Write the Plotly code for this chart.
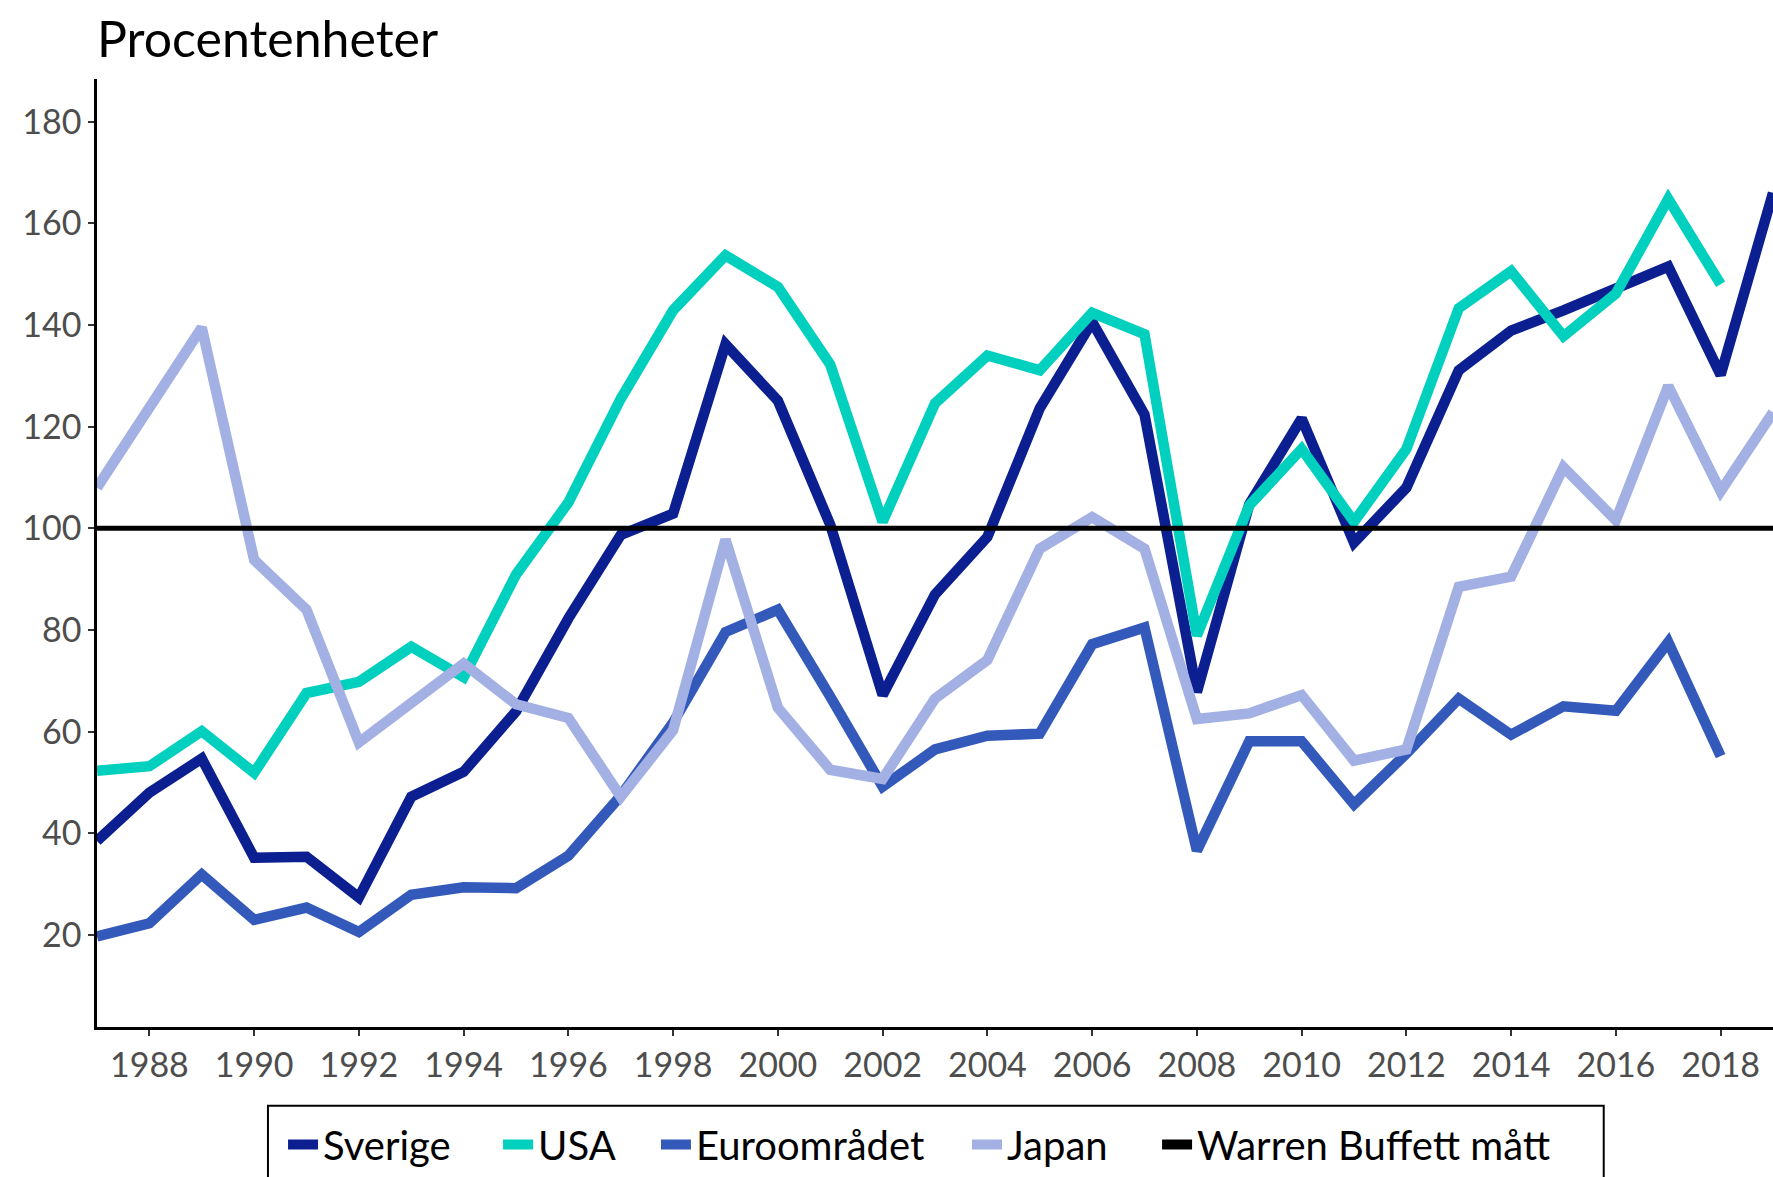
import plotly.graph_objects as go

years = list(range(1987, 2020))

sverige = [38.5, 48, 54.7, 35.2, 35.4, 27.4, 47.2, 52.1, 64, 82.3, 98.7, 102.9, 136.2, 125.1, 100.7,
           67.2, 87, 98.3, 123.6, 140.6, 122.4, 67.8, 104.7, 121.6, 97.2, 108, 131.1, 138.9, 142.9,
           147.3, 151.5, 130.2, 166]
usa = [52.3, 53.2, 60.1, 51.9, 67.6, 69.8, 76.7, 70.7, 90.9, 105.1, 125.5, 142.9, 153.7, 147.5, 132.2,
       101.3, 124.6, 134, 131.1, 142.4, 138.2, 78.9, 104.5, 115.6, 101.3, 115.6, 143.3, 150.6, 137.8,
       146.2, 164.8, 148, None]
euro = [19.7, 22.3, 31.9, 23, 25.4, 20.6, 27.9, 29.4, 29.2, 35.6, 47.4, 61.8, 79.6, 84, 66.9,
        49.2, 56.5, 59.2, 59.6, 77.2, 80.5, 36.6, 58.1, 58.1, 45.7, 55.7, 66.5, 59.4, 65,
        64.1, 77.6, 55.2, None]
japan = [108, 123.6, 139.5, 93.8, 84, 57.9, 65.4, 73.4, 65.4, 62.7, 47.2, 60.3, 97.8, 64.7, 52.5,
         50.7, 66.5, 74.1, 96, 102.2, 96, 62.5, 63.6, 67.2, 54.3, 56.5, 88.5, 90.5, 112,
         101.6, 128, 107.3, 122.8]
buffett = [100] * len(years)

names = ["Sverige", "USA", "Euroområdet", "Japan", "Warren Buffett mått"]
colors = ["#0b1f91", "#00d0bd", "#3359bb", "#a2b0e4", "#000000"]
values = [sverige, usa, euro, japan, buffett]
widths = [10.5, 10.5, 10.5, 10.5, 5]
legend_ids = ["legend", "legend2", "legend3", "legend4", "legend5"]
legend_x = [0.111, 0.2393, 0.3335, 0.5191, 0.6325]

font = "Lato, Roboto, sans-serif"

fig = go.Figure()
for name, vals, col, w, lg in zip(names, values, colors, widths, legend_ids):
    fig.add_trace(go.Scatter(x=years, y=vals, name=name, mode="lines",
                             line=dict(color=col, width=w), connectgaps=False,
                             showlegend=(w > 6), legend=lg))
# legend key for the reference line, drawn with the same key thickness as the others
fig.add_trace(go.Scatter(x=[None], y=[None], name=names[4], mode="lines",
                         line=dict(color=colors[4], width=10.5), legend="legend5"))

legend_common = dict(orientation="h", xanchor="left", y=-0.124, yanchor="middle",
                     bgcolor="rgba(0,0,0,0)", borderwidth=0, itemwidth=30,
                     font=dict(family=font, size=40, color="black"))
legends = {lg: dict(x=x, **legend_common) for lg, x in zip(legend_ids, legend_x)}

fig.update_layout(
    width=1773, height=1177,
    margin=dict(l=97, r=0, t=79, b=148),
    paper_bgcolor="white", plot_bgcolor="white",
    font=dict(family=font, size=34, color="#4d4d4d"),
    showlegend=True,
    xaxis=dict(range=[1987, 2019], tickmode="array", tickvals=list(range(1988, 2019, 2)),
               ticktext=[str(y) for y in range(1988, 2019, 2)],
               showgrid=False, zeroline=False, showline=True, linecolor="black", linewidth=2.5,
               ticks="outside", ticklen=6, tickwidth=2, tickcolor="#333333",
               tickfont=dict(size=34, color="#4d4d4d")),
    yaxis=dict(range=[1.9, 188.4], tickmode="array", tickvals=list(range(20, 181, 20)),
               showgrid=False, zeroline=False, showline=True, linecolor="black", linewidth=2.5,
               ticks="outside", ticklen=6, tickwidth=2, tickcolor="#333333",
               tickfont=dict(size=34, color="#4d4d4d")),
    annotations=[dict(text="Procentenheter", xref="paper", yref="paper", x=0, y=1,
                      xanchor="left", yanchor="bottom", yshift=9, xshift=-2, showarrow=False,
                      font=dict(family=font, size=50, color="black"))],
    shapes=[dict(type="rect", xref="paper", yref="paper", x0=0.102, x1=0.899,
                 y0=-0.0832, y1=-0.2, line=dict(color="black", width=2), fillcolor="rgba(0,0,0,0)")],
    **legends,
)

fig.write_html("out.html", config={"displayModeBar": False},
               post_script="document.body.style.margin='0';document.body.style.overflow='hidden';")
